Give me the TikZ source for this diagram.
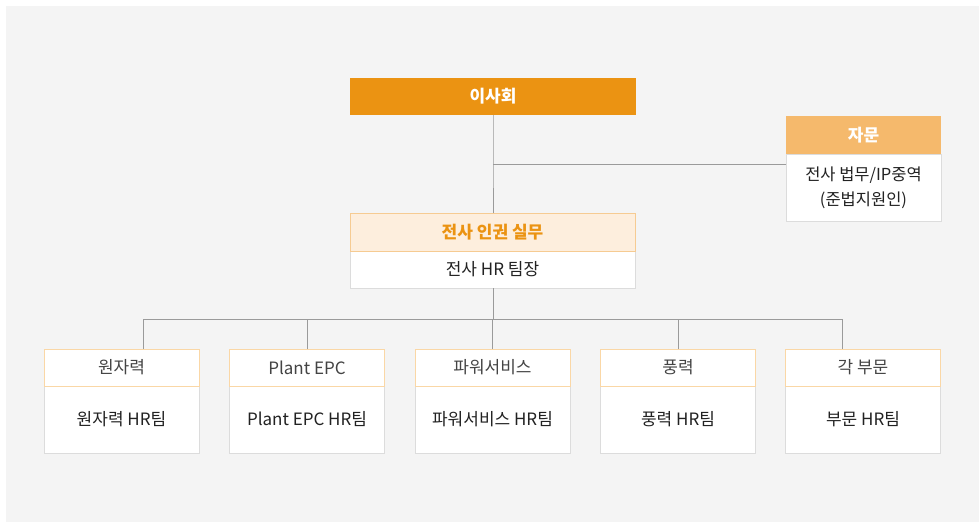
\documentclass[tikz,border=0pt]{standalone}
\usepackage{fontspec}
\setmainfont{Noto Sans CJK KR}
\definecolor{bgc}{HTML}{F4F4F4}
\definecolor{boardc}{HTML}{EB9312}
\definecolor{advc}{HTML}{F5B96C}
\definecolor{hrfill}{HTML}{FDEEDD}
\definecolor{hrline}{HTML}{F6CB92}
\definecolor{chline}{HTML}{FAD7A6}
\definecolor{boxline}{HTML}{DCDCDC}
\definecolor{conn}{HTML}{9A9A9A}
\definecolor{hdtext}{HTML}{444444}
\definecolor{bdtext}{HTML}{222222}
\begin{document}
\begin{tikzpicture}[x=1pt,y=-1pt,
  every node/.style={inner sep=0pt, outer sep=0pt},
  boardbox/.style={fill=boardc, minimum width=286pt, minimum height=37pt, text=white, font=\fontsize{17}{20}\selectfont\bfseries},
  advhead/.style={fill=advc, minimum width=155pt, minimum height=38pt, text=white, font=\fontsize{17}{20}\selectfont\bfseries},
  advbody/.style={fill=white, draw=boxline, line width=1pt, minimum width=155pt, minimum height=67pt, text=bdtext, align=center, font=\fontsize{16.5}{25}\selectfont},
  hrhead/.style={fill=hrfill, draw=hrline, line width=1pt, minimum width=285pt, minimum height=38pt, text=boardc, font=\fontsize{17}{20}\selectfont\bfseries},
  hrbody/.style={fill=white, draw=boxline, line width=1pt, minimum width=285pt, minimum height=37pt, text=bdtext, font=\fontsize{17}{20}\selectfont},
  chead/.style={fill=white, draw=chline, line width=1pt, minimum width=155pt, minimum height=37pt, text=hdtext, font=\fontsize{17}{20}\selectfont},
  cbody/.style={fill=white, draw=boxline, line width=1pt, minimum width=155pt, minimum height=67pt, text=bdtext, font=\fontsize{17}{20}\selectfont},
  connector/.style={draw=conn, line width=1pt}
]
\useasboundingbox (0,0) rectangle (979,522);
\fill[bgc] (6,6) rectangle (979,522);

\coordinate (j1) at (493,164);
\coordinate (j2) at (493,319);

\node[boardbox] (board) at (493,96.5) {이사회};
\node[advbody] (advb) at (863.5,187.5) {전사 법무/IP중역\\(준법지원인)};
\node[advhead] (advh) at (863.5,135) {자문};
\node[hrbody] (hrb) at (492.5,269.5) {전사 HR 팀장};
\node[hrhead] (hrh) at (492.5,232) {전사 인권 실무};

\foreach \i/\x/\h/\b in {1/121.5/원자력/원자력 HR팀, 2/307/Plant EPC/Plant EPC HR팀, 3/492.5/파워서비스/파워서비스 HR팀, 4/678/풍력/풍력 HR팀, 5/863/각 부문/부문 HR팀}{
  \node[cbody] (c\i b) at (\x,419.5) {\b};
  \node[chead] (c\i h) at (\x,367.5) {\h};
}

% drop points on the top edges of the outer child headers
\coordinate (d1) at ([xshift=21.5pt]c1h.north);
\coordinate (d5) at ([xshift=-21pt]c5h.north);

\draw[connector] (board.south) -- (j1) -- (j1 |- hrh.north);
\draw[connector] (j1) -- (j1 -| advb.west);
\draw[connector] (j2 |- hrb.south) -- (j2);
\draw[connector] (d1) -- (d1 |- j2) -- (d5 |- j2) -- (d5);
\draw[connector] (c2h.north) -- (c2h.north |- j2);
\draw[connector] (c3h.north) -- (c3h.north |- j2);
\draw[connector] (c4h.north) -- (c4h.north |- j2);
\end{tikzpicture}
\end{document}
